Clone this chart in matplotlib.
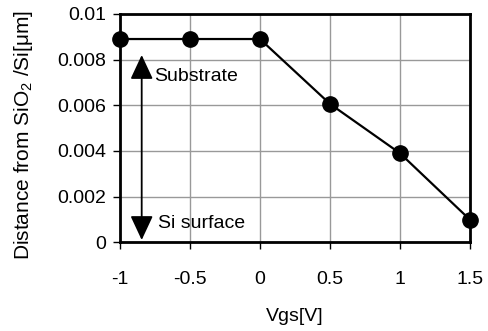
import matplotlib
matplotlib.use("Agg")
import matplotlib.pyplot as plt

# data
vgs = [-1, -0.5, 0, 0.5, 1, 1.5]
distance = [0.0089, 0.0089, 0.0089, 0.00606, 0.0039, 0.00099]
xticks = [-1, -0.5, 0, 0.5, 1, 1.5]
xtick_labels = ["-1", "-0.5", "0", "0.5", "1", "1.5"]
yticks = [0, 0.002, 0.004, 0.006, 0.008, 0.01]
ytick_labels = ["0", "0.002", "0.004", "0.006", "0.008", "0.01"]

plt.rcParams['font.family'] = ['Liberation Sans', 'DejaVu Sans']
plt.rcParams['mathtext.fontset'] = 'custom'
plt.rcParams['mathtext.rm'] = 'Liberation Sans'

fs = 14

fig = plt.figure(figsize=(4.89, 3.31), dpi=100)
ax = fig.add_axes([0.2454, 0.268, 0.7156, 0.690])

ax.plot(vgs, distance, color='black', lw=1.6, marker='o', markersize=11,
        clip_on=False, zorder=5)

ax.set_xlim(-1, 1.5)
ax.set_ylim(0, 0.01)
ax.set_xticks(xticks)
ax.set_xticklabels(xtick_labels)
ax.set_yticks(yticks)
ax.set_yticklabels(ytick_labels)
ax.tick_params(axis='both', labelsize=fs, direction='out', length=5, width=1,
               color='black')
ax.tick_params(axis='x', pad=16)
ax.tick_params(axis='y', pad=5)
ax.grid(True, color='#999999', lw=1)
ax.set_axisbelow(True)
for sp in ax.spines.values():
    sp.set_linewidth(2)
    sp.set_color('black')

# double-headed arrow with labels
ax.annotate('', xy=(-0.845, 0.0082), xytext=(-0.845, 0.0001),
            arrowprops=dict(arrowstyle='<|-|>,head_length=1.5,head_width=0.7',
                            color='black', lw=1.3, shrinkA=0, shrinkB=0))
ax.text(-0.755, 0.00727, 'Substrate', fontsize=fs, va='center', ha='left')
ax.text(-0.73, 0.00083, 'Si surface', fontsize=fs, va='center', ha='left')

ax.set_xlabel('Vgs[V]', fontsize=fs, labelpad=14)
ax.set_ylabel('Distance from SiO$_2$ /Si[μm]', fontsize=15)
ax.yaxis.set_label_coords(-0.243, 0.47)

fig.savefig('out.png', dpi=100)
